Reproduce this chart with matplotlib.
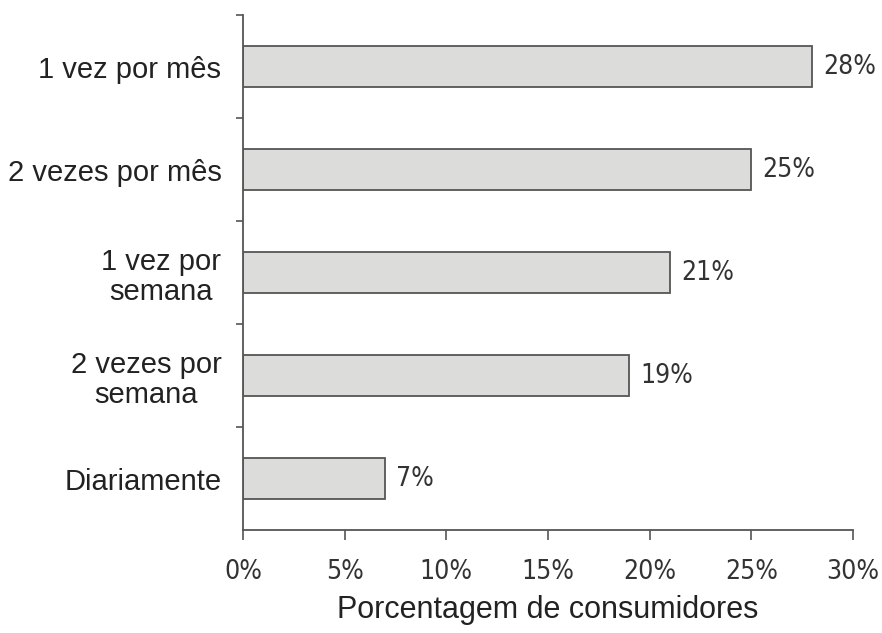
import matplotlib.pyplot as plt
from matplotlib import font_manager
from matplotlib.ticker import FixedLocator

plt.rcParams['font.family'] = ['Liberation Sans', 'DejaVu Sans']

# números em fonte estreita, se houver alguma instalada
fontes = font_manager.fontManager.ttflist
if any(f.name == 'Liberation Sans Narrow' for f in fontes):
    num_fonte = dict(family='Liberation Sans Narrow', size=21)
elif any(f.name == 'DejaVu Sans' and f.stretch == 'condensed' for f in fontes):
    num_fonte = dict(family='DejaVu Sans', stretch='condensed', size=19)
else:
    num_fonte = dict(family='Liberation Sans', size=18.5)

categorias = ['Diariamente', '2 vezes por\nsemana', '1 vez por\nsemana',
              '2 vezes por mês', '1 vez por mês']
percentuais = [7, 19, 21, 25, 28]
ticks_x = [0, 5, 10, 15, 20, 25, 30]

fig = plt.figure(figsize=(8.82, 6.33), dpi=100)
ax = fig.add_axes([0.2755, 0.1627, 0.6915, 0.8136])

pos = list(range(len(categorias)))
ax.barh(pos, percentuais, height=0.40, color='#dcdcda',
        edgecolor='#555555', linewidth=1.3)

for y, v in zip(pos, percentuais):
    ax.text(v + 0.55, y, f'{v}%', va='center', ha='left',
            color='#333333', fontproperties=font_manager.FontProperties(**num_fonte))

ax.set_xlim(0, 30)
ax.set_ylim(-0.5, 4.5)
ax.set_xticks(ticks_x)
ax.set_xticklabels([f'{t}%' for t in ticks_x],
                   fontproperties=font_manager.FontProperties(**num_fonte))
ax.tick_params(axis='x', direction='out', length=7, width=1.2,
               colors='#555555', labelcolor='#333333', pad=14)

# rótulos das categorias sem marca; marcas pequenas entre as categorias
ax.set_yticks(pos)
ax.set_yticklabels(categorias, fontsize=21, color='#222222',
                   multialignment='center', linespacing=1.1)
ax.tick_params(axis='y', length=0, pad=15.5)
ax.yaxis.set_minor_locator(FixedLocator([0.5, 1.5, 2.5, 3.5, 4.5]))
ax.tick_params(axis='y', which='minor', direction='out', length=5,
               width=1.2, color='#555555')

for s in ['top', 'right']:
    ax.spines[s].set_visible(False)
for s in ['left', 'bottom']:
    ax.spines[s].set_color('#555555')
    ax.spines[s].set_linewidth(1.3)

ax.set_xlabel('Porcentagem de consumidores', fontsize=22,
              color='#222222', labelpad=7)

fig.savefig('out.png', dpi=100)
